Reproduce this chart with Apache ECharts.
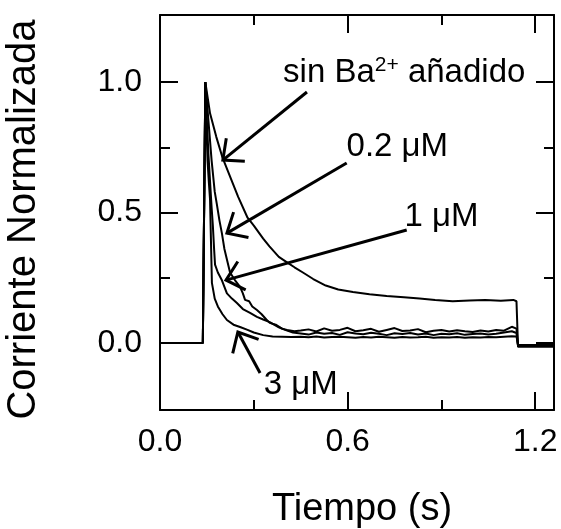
<!DOCTYPE html>
<html><head><meta charset="utf-8">
<script src="https://cdn.jsdelivr.net/npm/echarts@6/dist/echarts.min.js"></script>
<style>html,body{margin:0;padding:0;background:#fff}#c{width:561px;height:529px}</style>
</head><body><div id="c"></div>
<script>
// axis ticks
const xTicks = [0, 0.6, 1.2];
const xMinorTicks = [0.3, 0.9];
const yTicks = [0, 0.5, 1.0];
const yMinorTicks = [0.25, 0.75];

// common onset of the current (all traces)
const onsetTime = [0, 0.137, 0.145];
const onsetValue = [0, 0, 1.0];

// sin Ba2+ añadido
const sinTime = [0.16, 0.18, 0.20, 0.22, 0.25, 0.28, 0.30, 0.33, 0.35, 0.38, 0.405, 0.43, 0.457, 0.49, 0.53, 0.57, 0.617, 0.67, 0.725, 0.78, 0.83, 0.88, 0.936, 0.99, 1.04, 1.09, 1.13, 1.14];
const sinValue = [0.88, 0.79, 0.71, 0.65, 0.56, 0.48, 0.45, 0.40, 0.37, 0.33, 0.31, 0.29, 0.27, 0.245, 0.22, 0.205, 0.195, 0.187, 0.18, 0.175, 0.17, 0.165, 0.16, 0.163, 0.165, 0.162, 0.165, 0.16];

// early decay parts
const c02Time = [0.155, 0.165, 0.175, 0.182, 0.19, 0.198, 0.206, 0.214, 0.224, 0.24, 0.256, 0.265, 0.272, 0.285, 0.295, 0.31, 0.325, 0.34, 0.351, 0.37, 0.39, 0.406, 0.43];
const c02Value = [0.85, 0.70, 0.58, 0.53, 0.47, 0.42, 0.36, 0.32, 0.27, 0.24, 0.215, 0.19, 0.165, 0.16, 0.14, 0.126, 0.11, 0.09, 0.077, 0.07, 0.055, 0.05, 0.045];
const c1Time = [0.15, 0.155, 0.16, 0.165, 0.169, 0.173, 0.176, 0.185, 0.198, 0.214, 0.23, 0.246, 0.265, 0.288, 0.31, 0.33, 0.351, 0.38, 0.40, 0.425];
const c1Value = [0.85, 0.72, 0.62, 0.52, 0.45, 0.36, 0.30, 0.27, 0.24, 0.19, 0.17, 0.153, 0.13, 0.115, 0.10, 0.09, 0.08, 0.06, 0.05, 0.04];
const c3Time = [0.148, 0.152, 0.156, 0.16, 0.166, 0.175, 0.185, 0.20, 0.214, 0.235, 0.256, 0.28, 0.30, 0.33, 0.36, 0.39, 0.42];
const c3Value = [0.85, 0.70, 0.62, 0.55, 0.23, 0.17, 0.14, 0.11, 0.088, 0.07, 0.061, 0.05, 0.04, 0.03, 0.025, 0.024, 0.023];

// steady part (shared time points)
const flatTime = [0.45, 0.475, 0.5, 0.525, 0.55, 0.575, 0.6, 0.625, 0.65, 0.675, 0.7, 0.725, 0.75, 0.775, 0.8, 0.825, 0.85, 0.875, 0.9, 0.925, 0.95, 0.975, 1.0, 1.025, 1.05, 1.075, 1.1, 1.125, 1.14];
const c02Flat = [0.048, 0.052, 0.044, 0.056, 0.047, 0.05, 0.058, 0.045, 0.049, 0.054, 0.043, 0.05, 0.057, 0.046, 0.048, 0.053, 0.041, 0.047, 0.05, 0.044, 0.049, 0.045, 0.042, 0.048, 0.044, 0.05, 0.047, 0.062, 0.055];
const c1Flat = [0.036, 0.032, 0.04, 0.035, 0.038, 0.031, 0.041, 0.036, 0.033, 0.039, 0.035, 0.03, 0.037, 0.034, 0.038, 0.032, 0.036, 0.03, 0.035, 0.033, 0.037, 0.031, 0.034, 0.036, 0.032, 0.035, 0.04, 0.045, 0.038];
const c3Flat = [0.024, 0.022, 0.025, 0.021, 0.023, 0.024, 0.022, 0.02, 0.023, 0.021, 0.024, 0.022, 0.02, 0.023, 0.021, 0.022, 0.024, 0.02, 0.022, 0.021, 0.023, 0.02, 0.022, 0.021, 0.023, 0.022, 0.024, 0.026, 0.025];

// after the pulse
const offTime = [1.145, 1.26];
const sinOff = [-0.015, -0.015];
const c02Off = [-0.01, -0.01];
const c1Off = [-0.012, -0.012];
const c3Off = [-0.008, -0.008];

// annotations (arrows: tail -> tip, in data units)
const arrowTailT = [0.47, 0.597, 0.789, 0.32];
const arrowTailV = [0.962, 0.69, 0.433, -0.115];
const arrowTipT = [0.201, 0.214, 0.211, 0.249];
const arrowTipV = [0.701, 0.421, 0.241, 0.042];
const labelT = [0.781, 0.759, 0.90, 0.45];
const labelV = [1.036, 0.751, 0.483, -0.159];
const labelText = ['sin Ba{s|2+} añadido', '0.2 μM', '1 μM', '3 μM'];

const FONT = '"Liberation Sans", Arial, Helvetica, sans-serif';
function zip(t, v) { return t.map((x, i) => [x, v[i]]); }
function trace(early, flatT, flatV, offV) {
  return zip(onsetTime, onsetValue).concat(early, zip(flatT, flatV), zip(offTime, offV));
}
const sinData = zip(onsetTime, onsetValue).concat(zip(sinTime, sinValue), zip(offTime, sinOff));
const c02Data = trace(zip(c02Time, c02Value), flatTime, c02Flat, c02Off);
const c1Data = trace(zip(c1Time, c1Value), flatTime, c1Flat, c1Off);
const c3Data = trace(zip(c3Time, c3Value), flatTime, c3Flat, c3Off);

const XMIN = 0, XMAX = 1.26, YMIN = -0.257, YMAX = 1.257;
function xAx(pos, major, showLine, showLabel) {
  return {
    type: 'value', position: pos, min: XMIN, max: XMAX,
    axisLine: { show: showLine, onZero: false, lineStyle: { color: '#000', width: 2 } },
    axisTick: { show: true, inside: true, length: major ? 18 : 10, customValues: major ? xTicks : xMinorTicks, lineStyle: { color: '#000', width: 2 } },
    axisLabel: { show: showLabel, customValues: xTicks, formatter: v => v.toFixed(1), color: '#000', fontSize: 32, fontFamily: FONT, margin: 16 },
    splitLine: { show: false }
  };
}
function yAx(pos, major, showLine, showLabel) {
  return {
    type: 'value', position: pos, min: YMIN, max: YMAX,
    axisLine: { show: showLine, onZero: false, lineStyle: { color: '#000', width: 2 } },
    axisTick: { show: true, inside: true, length: major ? 18 : 10, customValues: major ? yTicks : yMinorTicks, lineStyle: { color: '#000', width: 2 } },
    axisLabel: { show: showLabel, customValues: yTicks, formatter: v => v.toFixed(1), color: '#000', fontSize: 32, fontFamily: FONT, margin: 18 },
    splitLine: { show: false }
  };
}
const xAxes = [xAx('bottom', true, true, true), xAx('bottom', false, false, false), xAx('top', true, true, false), xAx('top', false, false, false)];
xAxes[0].name = 'Tiempo (s)';
xAxes[0].nameLocation = 'middle';
xAxes[0].nameGap = 81;
xAxes[0].nameTextStyle = { color: '#000', fontSize: 38, fontFamily: FONT, padding: [0, 0, 0, 10] };
const yAxes = [yAx('left', true, true, true), yAx('left', false, false, false), yAx('right', true, true, false), yAx('right', false, false, false)];
yAxes[0].name = 'Corriente Normalizada';
yAxes[0].nameLocation = 'middle';
yAxes[0].nameGap = 116;
yAxes[0].nameTextStyle = { color: '#000', fontSize: 40, fontFamily: FONT, padding: [0, 14, 0, 0] };

function lineSeries(name, data) {
  return { name, type: 'line', data, showSymbol: false, symbol: 'none', xAxisIndex: 0, yAxisIndex: 0,
    lineStyle: { color: '#000', width: 2 }, itemStyle: { color: '#000' }, animation: false, z: 3 };
}

const arrowData = arrowTailT.map((t, i) => [t, arrowTailV[i], arrowTipT[i], arrowTipV[i]]);
const labelData = labelT.map((t, i) => [t, labelV[i]]);

const option = {
  backgroundColor: '#fff',
  animation: false,
  grid: { left: 160, top: 15, right: 7, bottom: 119, containLabel: false, outerBoundsMode: 'none' },
  xAxis: xAxes,
  yAxis: yAxes,
  series: [
    lineSeries('sin Ba2+ añadido', sinData),
    lineSeries('0.2 μM', c02Data),
    lineSeries('1 μM', c1Data),
    lineSeries('3 μM', c3Data),
    {
      type: 'custom', xAxisIndex: 0, yAxisIndex: 0, data: arrowData, clip: false, z: 4,
      renderItem: function (params, api) {
        const a = api.coord([api.value(0), api.value(1)]);
        const b = api.coord([api.value(2), api.value(3)]);
        const ang = Math.atan2(a[1] - b[1], a[0] - b[0]);
        const L = 22, spread = 42 * Math.PI / 180;
        const b1 = [b[0] + L * Math.cos(ang + spread), b[1] + L * Math.sin(ang + spread)];
        const b2 = [b[0] + L * Math.cos(ang - spread), b[1] + L * Math.sin(ang - spread)];
        const st = { stroke: '#000', lineWidth: 3, fill: null };
        return { type: 'group', children: [
          { type: 'line', shape: { x1: a[0], y1: a[1], x2: b[0], y2: b[1] }, style: st },
          { type: 'polyline', shape: { points: [b1, b, b2] }, style: st }
        ] };
      }
    },
    {
      type: 'custom', xAxisIndex: 0, yAxisIndex: 0, data: labelData, clip: false, z: 5,
      renderItem: function (params, api) {
        const p = api.coord([api.value(0), api.value(1)]);
        return { type: 'text', x: p[0], y: p[1], style: {
          text: labelText[params.dataIndex], fill: '#000', font: '33px ' + FONT,
          align: 'center', verticalAlign: 'middle',
          rich: { s: { fontSize: 21, fontFamily: FONT, fill: '#000', padding: [0, 0, 15, 0] } }
        } };
      }
    }
  ]
};
const chart = echarts.init(document.getElementById('c'), null, { renderer: 'canvas' });
chart.setOption(option);
</script>
</body></html>
